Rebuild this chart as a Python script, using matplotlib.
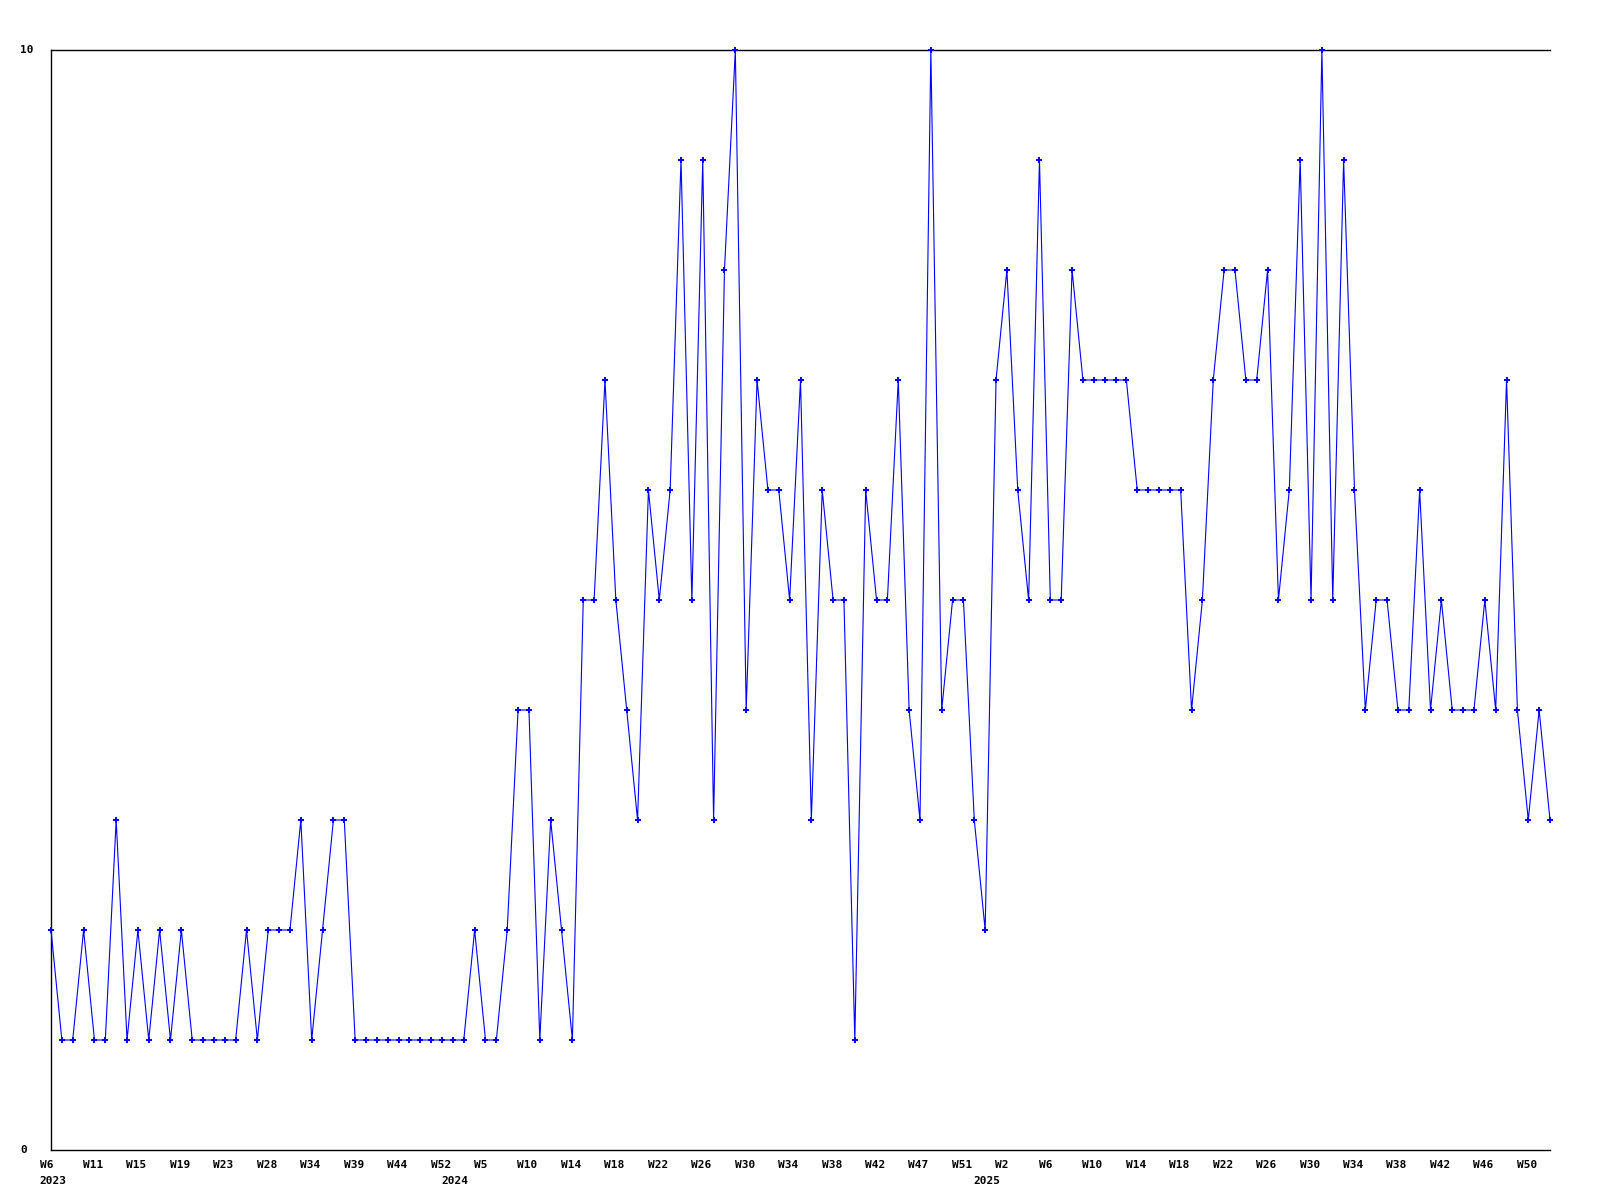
import matplotlib
matplotlib.use("Agg")
import matplotlib.pyplot as plt
from matplotlib import transforms

# ---- data ----
values = [
    2, 1, 1, 2, 1, 1, 3, 1, 2, 1,
    2, 1, 2, 1, 1, 1, 1, 1, 2, 1,
    2, 2, 2, 3, 1, 2, 3, 3, 1, 1,
    1, 1, 1, 1, 1, 1, 1, 1, 1, 2,
    1, 1, 2, 4, 4, 1, 3, 2, 1, 5,
    5, 7, 5, 4, 3, 6, 5, 6, 9, 5,
    9, 3, 8, 10, 4, 7, 6, 6, 5, 7,
    3, 6, 5, 5, 1, 6, 5, 5, 7, 4,
    3, 10, 4, 5, 5, 3, 2, 7, 8, 6,
    5, 9, 5, 5, 8, 7, 7, 7, 7, 7,
    6, 6, 6, 6, 6, 4, 5, 7, 8, 8,
    7, 7, 8, 5, 6, 9, 5, 10, 5, 9,
    6, 4, 5, 5, 4, 4, 6, 4, 5, 4,
    4, 4, 5, 4, 7, 4, 3, 4, 3,
]
week_labels = ["W6", "W11", "W15", "W19", "W23", "W28", "W34", "W39", "W44",
               "W52", "W5", "W10", "W14", "W18", "W22", "W26", "W30", "W34",
               "W38", "W42", "W47", "W51", "W2", "W6", "W10", "W14", "W18",
               "W22", "W26", "W30", "W34", "W38", "W42", "W46", "W50"]
week_label_pos = list(range(0, 139, 4))
year_labels = ["2023", "2024", "2025"]
year_label_pos = [0, 37, 86]
y_labels = ["0", "10"]
y_label_vals = [0, 10]

W, H = 1600, 1200
fig = plt.figure(figsize=(16, 12), dpi=100)
ax = fig.add_axes([51 / W, 50 / H, 1499 / W, 1100 / H])

x = list(range(len(values)))
ax.plot(x, values, color="#0000ff", lw=0.8, marker="P", ms=4.0,
        mew=0, clip_on=False, zorder=3)

ax.set_xlim(0, len(values) - 1)
ax.set_ylim(0, 10)
ax.set_xticks([])
ax.set_yticks([])
for s in ["left", "top", "bottom"]:
    ax.spines[s].set_linewidth(1.0)
    ax.spines[s].set_color("black")
ax.spines["right"].set_visible(False)

font = dict(family="DejaVu Sans Mono", fontweight="bold", fontsize=8)

off = transforms.ScaledTranslation(-11.5 / 100, 0, fig.dpi_scale_trans)
trx = transforms.blended_transform_factory(ax.transData, fig.transFigure)
for p, lab in zip(week_label_pos, week_labels):
    ax.text(p, 1 - 1165 / H, lab, transform=trx + off, ha="left", va="center",
            clip_on=False, **font)
for p, lab in zip(year_label_pos, year_labels):
    ax.text(p, 1 - 1181 / H, lab, transform=trx + off, ha="left", va="center",
            clip_on=False, **font)

try_ = transforms.blended_transform_factory(fig.transFigure, ax.transData)
for v, lab in zip(y_label_vals, y_labels):
    ax.text(20 / W, v, lab, transform=try_, ha="left", va="center",
            clip_on=False, **font)

fig.savefig("out.png", dpi=100, facecolor="white")
